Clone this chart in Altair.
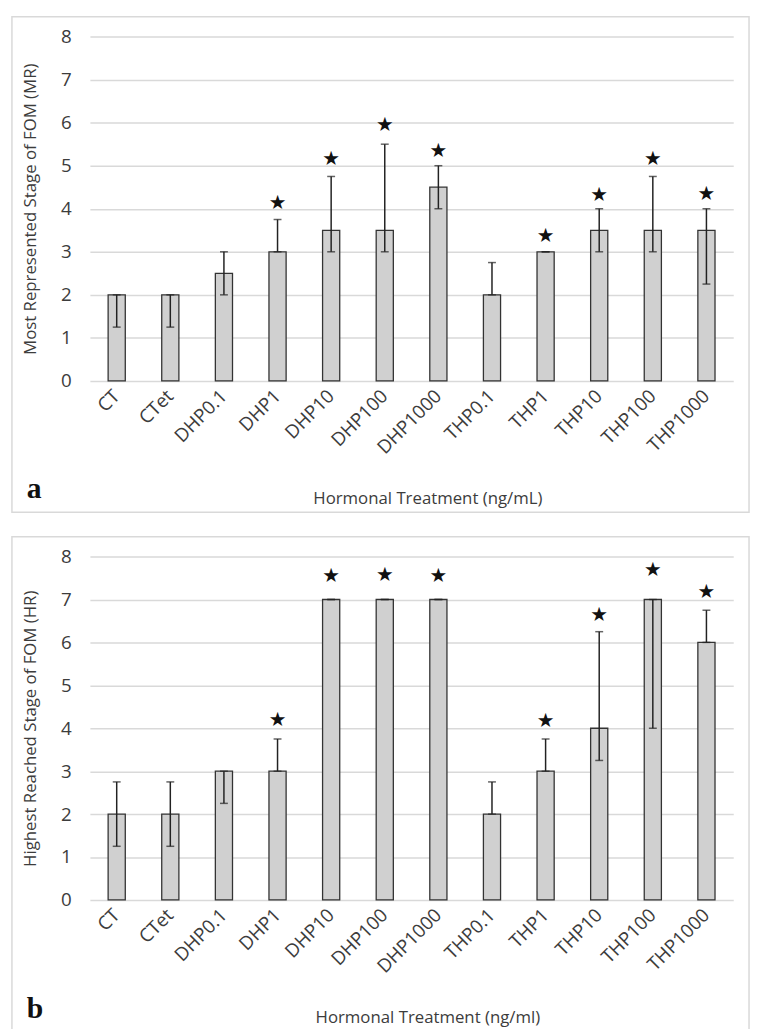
import altair as alt
import pandas as pd

categories = ["CT", "CTet", "DHP0.1", "DHP1", "DHP10", "DHP100", "DHP1000",
              "THP0.1", "THP1", "THP10", "THP100", "THP1000"]

# Panel a: Most Represented stage (MR)
mr_values = [2, 2, 2.5, 3, 3.5, 3.5, 4.5, 2, 3, 3.5, 3.5, 3.5]
mr_err_low = [1.25, 1.25, 2, 3, 3, 3, 4, 2, 3, 3, 3, 2.25]
mr_err_high = [2, 2, 3, 3.75, 4.75, 5.5, 5, 2.75, 3, 4, 4.75, 4]
mr_star = [None, None, None, 4.13, 5.16, 5.94, 5.34, None, 3.36, 4.32, 5.16, 4.33]

# Panel b: Highest Reached stage (HR)
hr_values = [2, 2, 3, 3, 7, 7, 7, 2, 3, 4, 7, 6]
hr_err_low = [1.25, 1.25, 2.25, 3, 7, 7, 7, 2, 3, 3.25, 4, 6]
hr_err_high = [2.75, 2.75, 3, 3.75, 7, 7, 7, 2.75, 3.75, 6.25, 7, 6.75]
hr_star = [None, None, None, 4.2, 7.55, 7.57, 7.55, None, 4.17, 6.63, 7.69, 7.17]

y_ticks = [0, 1, 2, 3, 4, 5, 6, 7, 8]

FONT = "Open Sans"
TXT = "#3c3c3c"
W = 652


def panel(vals, lo, hi, star, ytitle, xtitle, letter, h):
    df = pd.DataFrame({"Treatment": categories, "value": vals, "lo": lo,
                       "hi": hi, "star": star})
    base = alt.Chart(df)
    xscale = alt.Scale(paddingInner=0.68, paddingOuter=0.34)
    xaxis = alt.Axis(title=xtitle, labelAngle=-45, labelAlign="right",
                     labelBaseline="middle", labelPadding=12,
                     titleX=342, titleY=119, titleBaseline="middle",
                     titleAlign="center")
    yscale = alt.Scale(domain=[0, 8], nice=False)
    yaxis = alt.Axis(title=ytitle, values=y_ticks, labelPadding=19, grid=True,
                     titleX=-60, titleY=h / 2, titleAngle=270,
                     titleBaseline="middle", titleAlign="center")

    def X():
        return alt.X("Treatment:N", sort=categories, scale=xscale, axis=xaxis)

    def Y(f):
        return alt.Y(f, scale=yscale, axis=yaxis)

    frame = alt.Chart(pd.DataFrame({"f": [0]})).mark_rect(
        fillOpacity=0, stroke="#d9d9d9", strokeWidth=1.5
    ).encode(x=alt.value(-79), x2=alt.value(668), y=alt.value(-20), y2=alt.value(482))
    bars = base.mark_bar(fill="#d0d0d0", stroke="#333333", strokeWidth=1.3).encode(
        x=X(), y=Y("value:Q"))
    rule = base.mark_rule(color="#222222", strokeWidth=1.5).encode(
        x=X(), y=Y("lo:Q"), y2="hi:Q")
    cap_lo = base.mark_tick(color="#222222", thickness=1.5, size=8).encode(
        x=X(), y=Y("lo:Q"))
    cap_hi = base.mark_tick(color="#222222", thickness=1.5, size=8).encode(
        x=X(), y=Y("hi:Q"))
    stars = base.transform_filter("isValid(datum.star)").mark_text(
        text="★", font="DejaVu Sans", fontSize=20, color="#111111",
        baseline="middle", align="center").encode(
        x=X(), y=Y("star:Q"))
    lab = alt.Chart(pd.DataFrame({"t": [letter]})).mark_text(
        font="Liberation Serif", fontWeight="bold", fontSize=30, align="left",
        baseline="alphabetic", color="#111111").encode(
        text="t:N", x=alt.value(-64), y=alt.value(468))
    return alt.layer(frame, bars, rule, cap_lo, cap_hi, stars, lab).properties(
        width=W, height=h)


pa = panel(mr_values, mr_err_low, mr_err_high, mr_star,
           "Most Represented Stage of FOM (MR)", "Hormonal Treatment (ng/mL)", "a", 349)
pb = panel(hr_values, hr_err_low, hr_err_high, hr_star,
           "Highest Reached Stage of FOM (HR)", "Hormonal Treatment (ng/ml)", "b", 348)

chart = alt.vconcat(pa, pb, spacing=21).properties(
    padding={"left": 2, "top": 0, "right": 0, "bottom": 0}
).configure_view(stroke="transparent").configure_axis(
    gridColor="#d9d9d9", gridWidth=1.5, domain=False, ticks=False,
    tickSize=0, labelFont=FONT, labelFontSize=19, labelColor=TXT,
    titleFont=FONT, titleFontSize=17, titleFontWeight="normal", titleColor=TXT
).configure_axisX(grid=False)

chart.save("out.html", embed_options={"renderer": "svg", "actions": False})
